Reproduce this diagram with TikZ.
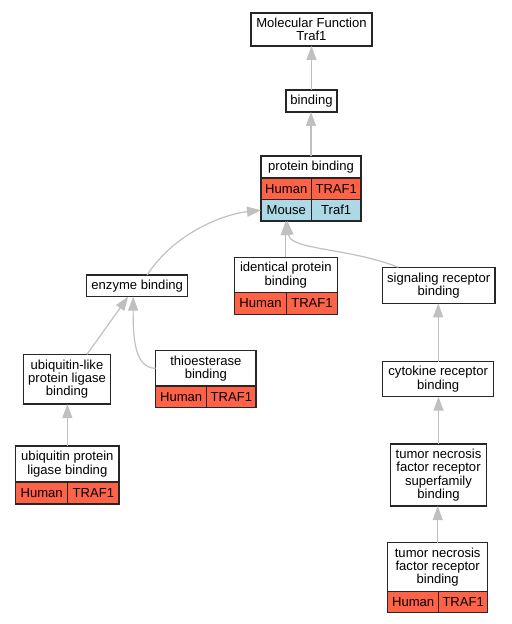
\documentclass[tikz,border=0pt]{standalone}
\usepackage{fontspec}
\setmainfont{Liberation Sans}
\usepackage{tikz}
\usetikzlibrary{arrows.meta,positioning}
\definecolor{tomato}{HTML}{FF6347}
\definecolor{lightblue}{HTML}{ADD8E6}
\definecolor{edgegray}{HTML}{C0C0C0}
\newcommand{\gpx}{0.75pt}
\begin{document}
\begin{tikzpicture}[x=0.75pt, y=-0.75pt,
		term/.style={draw=black!85, line width=0.85pt, fill=white, inner sep=0pt, outer sep=0pt, align=center, font=\fontsize{9.8pt}{10pt}\selectfont},
		cell/.style={term, minimum height=21.5*\gpx},
		human/.style={cell, fill=tomato},
		mouse/.style={cell, fill=lightblue},
		isa/.style={draw=edgegray, line width=0.9pt, -{Triangle[length=14*\gpx, width=10*\gpx]}}]
	\useasboundingbox (0,0) rectangle (511,624);

	\node[term, minimum width=121*\gpx, minimum height=33*\gpx] (mf) at (311.5,29.5) {Molecular Function\\Traf1};
	\node[term, minimum width=51*\gpx, minimum height=22*\gpx] (bind) at (311.5,101) {binding};

	\node[term, minimum width=100*\gpx, minimum height=22*\gpx] (pb) at (311,167) {protein binding};
	\node[human, minimum width=50.5*\gpx, anchor=north west] (pbh) at (pb.south west) {Human};
	\node[human, minimum width=49.5*\gpx, anchor=north east] (pbt) at (pb.south east) {TRAF1};
	\node[mouse, minimum width=50.5*\gpx, anchor=north west] (pbm) at (pbh.south west) {Mouse};
	\node[mouse, minimum width=49.5*\gpx, anchor=north east] (pbmt) at (pbt.south east) {Traf1};

	\node[term, minimum width=103*\gpx, minimum height=35.4*\gpx] (ipb) at (285.8,275) {identical protein\\binding};
	\node[human, minimum width=52.4*\gpx, anchor=north west] (ipbh) at (ipb.south west) {Human};
	\node[human, minimum width=50.6*\gpx, anchor=north east] (ipbt) at (ipb.south east) {TRAF1};

	\node[term, minimum width=101*\gpx, minimum height=21.7*\gpx] (enz) at (137.2,285.8) {enzyme binding};
	\node[term, minimum width=86.6*\gpx, minimum height=49.7*\gpx] (ubl) at (67,379.2) {ubiquitin-like\\protein ligase\\binding};

	\node[term, minimum width=100.3*\gpx, minimum height=35.3*\gpx] (thio) at (205.85,368.35) {thioesterase\\binding};
	\node[human, minimum width=51*\gpx, anchor=north west] (thioh) at (thio.south west) {Human};
	\node[human, minimum width=49.3*\gpx, anchor=north east] (thiot) at (thio.south east) {TRAF1};

	\node[term, minimum width=103.3*\gpx, minimum height=36*\gpx] (upl) at (67.35,464) {ubiquitin protein\\ligase binding};
	\node[human, minimum width=52*\gpx, minimum height=22*\gpx, anchor=north west] (uplh) at (upl.south west) {Human};
	\node[human, minimum width=51.3*\gpx, minimum height=22*\gpx, anchor=north east] (uplt) at (upl.south east) {TRAF1};

	\node[term, minimum width=112.7*\gpx, minimum height=36*\gpx] (sig) at (438.65,285.3) {signaling receptor\\binding};
	\node[term, minimum width=111*\gpx, minimum height=35*\gpx] (cyt) at (438.2,379.2) {cytokine receptor\\binding};
	\node[term, minimum width=96.4*\gpx, minimum height=62*\gpx] (tsf) at (438.5,475) {tumor necrosis\\factor receptor\\superfamily\\binding};

	\node[term, minimum width=100*\gpx, minimum height=49*\gpx] (tnf) at (437.7,567.2) {tumor necrosis\\factor receptor\\binding};
	\node[human, minimum width=51*\gpx, minimum height=21*\gpx, anchor=north west] (tnfh) at (tnf.south west) {Human};
	\node[human, minimum width=49*\gpx, minimum height=21*\gpx, anchor=north east] (tnft) at (tnf.south east) {TRAF1};

	\foreach \a/\b in {bind/mf, cyt/sig, tsf/cyt, tnf/tsf}
		\draw[isa] (\a.north) -- (\a.north |- \b.south);
	\draw[isa] (pb.north) -- (pb.north |- bind.south);
	\draw[isa] (ipb.north) -- (ipb.north |- pbm.south);
	\draw[isa] ([xshift=16*\gpx]sig.north west) .. controls (350,248) and (290,250) .. ([xshift=1*\gpx]pbm.south);
	\draw[isa] ([xshift=10*\gpx]enz.north) .. controls (175,232) and (225,214) .. (pbm.west);
	\draw[isa] ([xshift=20*\gpx]ubl.north) -- ([xshift=-9*\gpx]enz.south);
	\draw[isa] (thio.west) .. controls (135,368) and (133,340) .. ([xshift=-4*\gpx]enz.south);
	\draw[isa] (upl.north) -- (upl.north |- ubl.south);
\end{tikzpicture}
\end{document}
